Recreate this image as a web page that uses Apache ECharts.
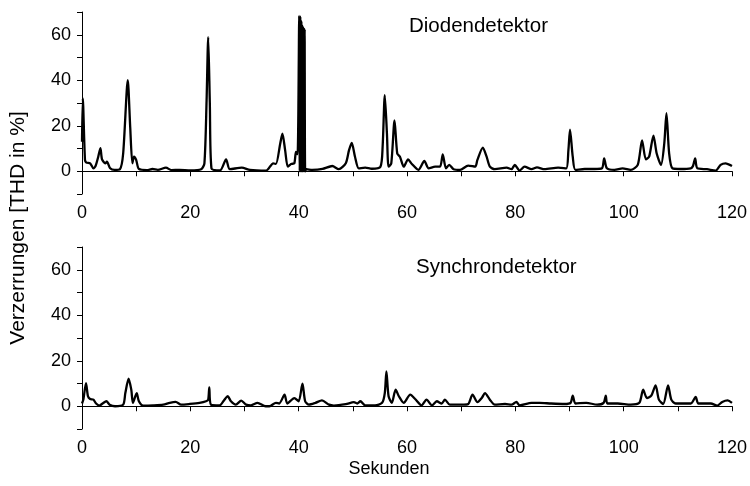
<!DOCTYPE html>
<html>
<head>
<meta charset="utf-8">
<script src="https://cdn.jsdelivr.net/npm/echarts@6/dist/echarts.min.js"></script>
<style>
  html, body { margin: 0; padding: 0; background: #fff; }
  #chart { width: 750px; height: 486px; }
</style>
</head>
<body>
<div id="chart"></div>
<script>
// Diodendetektor (Sekunden, THD %)
const diodeX = [0, 0.15, 0.55, 0.8, 1.5, 2.1, 2.5, 3, 3.4, 3.7, 4.3, 4.6, 5.2, 6, 7, 7.6, 8.45, 8.9, 9.3, 9.6,
  10, 10.5, 12, 13, 14, 15.5, 16.5, 18, 20, 22, 22.6, 23, 23.3, 23.6, 23.9, 25.5, 26.6, 27.3, 29.5, 31,
  34, 35.3, 35.8, 36.6, 37, 37.5, 38, 38.6, 39.2, 39.5, 39.8,
  40.1, 40.2, 40.3, 40.4, 40.5, 40.6, 40.7, 40.8, 40.9, 41, 41.1, 41.2,
  41.4, 42.5, 44.4,
  46.2, 47.4, 48.7, 49.3, 49.8, 50.4, 51.1, 52.3, 53.5, 55.1, 55.5, 55.9, 56.3, 56.6, 57.1, 57.7, 58.2, 58.7, 59.4, 60.2,
  60.9, 62.1, 63.2, 64, 65.2, 66.1, 66.6, 67.2, 67.8, 68.6, 69.8, 71.3, 72.6, 73, 74, 74.7, 75.3, 76.2, 78.4, 79.3,
  79.9, 80.8, 81.7, 83, 84, 85.4, 87.9, 89.4, 89.8, 90.1, 90.6, 91.1, 92.8, 94.6, 96, 96.4, 96.9, 98.3, 99.8, 101.3,
  102.6, 103.4, 104.1, 104.7, 105.5, 106.1, 106.9, 107.5, 107.9, 108.4, 109, 110.5, 112.4, 112.8, 113.2, 113.6, 115.4, 117, 117.9, 118.8, 120]
const diodeY = [13, 32, 5, 3.8, 3.5, 1.3, 2.3, 6.4, 10.2, 5.2, 3.5, 4.2, 1.3, 0.6, 0.9, 7.8, 40, 19.4, 3.5, 6.4,
  5, 1, 0.5, 1, 0.6, 1.6, 0.5, 0.6, 0.4, 0.9, 3.5, 31, 59, 30, 1.3, 0.4, 5.2, 0.9, 1.6, 0.6,
  0.3, 3.5, 3.2, 12.2, 16.5, 9.3, 2, 3.2, 3.5, 8.5, 7.5,
  68.3, 0, 68, 0, 66, 0, 64, 0, 63, 0, 62.5, 0,
  0.9, 0.6, 1,
  2.3, 0.9, 3.5, 9.3, 12.5, 6.4, 1.3, 1.6, 1.1, 2, 10.7, 33.5, 16.5, 2, 3.5, 22.3, 7.8, 6.4, 2, 5.2,
  3.2, 0.6, 4.5, 1.3, 2, 2, 7.4, 1.3, 2.8, 0.9, 0.6, 2.5, 2, 5, 10.4, 6.4, 2, 0.9, 1.6, 0.9,
  2.8, 0.3, 2, 0.9, 1.7, 0.9, 1.6, 1.3, 9.3, 18.3, 6.4, 0.6, 1, 1, 1.3, 5.7, 1.3, 0.6, 1.3, 0.6,
  2.8, 13.6, 5.2, 6.4, 15.7, 7.8, 2.8, 12.2, 25.5, 7.8, 1.3, 1, 1.3, 2.3, 5.7, 1.3, 0.9, 0.3, 2.8, 3.5, 2.3]

// Synchrondetektor
const syncX = [0, 0.25, 0.74, 1.1, 1.5, 2.1, 2.6, 3.2, 3.8, 4.5, 5.1, 6.1, 7.6, 8, 8.6, 9.1, 9.4, 10.1, 10.5, 11.3,
  13.1, 15, 16.2, 17.3, 18.3, 19.9, 21.7, 22.9, 23.3, 23.5, 23.8, 25.4, 26.3, 26.9, 27.5, 28.4, 29.4, 30.3, 31.2, 32.4,
  33.9, 34.6, 35.8, 36.4, 37.4, 37.9, 39.2, 40, 40.7, 41.2, 41.9, 43.1, 44.3, 45.6, 46.5, 48.7, 50.2, 50.8, 51.4, 52.3,
  54.1, 55.4, 55.9, 56.2, 56.6, 57.2, 57.9, 58.5, 59.4, 60.6, 61.5, 62.7, 63.6, 64.6, 65.5, 66.4, 67, 67.9, 70.1, 71.3,
  72.1, 73, 73.8, 74.4, 75.3, 76.2, 78.1, 79.3, 80.2, 80.8, 83, 84.5, 86.6, 89.1, 90.2, 90.6, 91.1, 93.1, 95.1, 96.3,
  96.7, 97, 98.9, 101.3, 102.9, 103.6, 104.3, 105.1, 105.9, 106.5, 107.3, 108.2, 108.8, 109.6, 112.4, 113.3, 113.8, 116.1, 117.3, 118.2, 119.2, 120]
const syncY = [1.2, 2.9, 10.2, 4.4, 3.2, 2.9, 1.2, 0.3, 1.2, 2.2, 0.7, 0, 0.7, 5.8, 12.1, 7.3, 1.5, 5.8, 2.2, 0.3,
  0.4, 0.7, 1.5, 1.9, 0.7, 1, 1.5, 2.2, 2.9, 8.3, 0.7, 0.4, 2.9, 4.4, 2.2, 0.7, 2.5, 0.7, 0.4, 1.5,
  0, 0, 1.5, 1.2, 5.1, 1.2, 3.6, 2.2, 9.9, 2.2, 0.7, 1.5, 2.6, 0.7, 0.3, 0.9, 1.8, 1.2, 2.2, 0.4,
  0.4, 1.5, 5.8, 15.3, 4.4, 1.5, 7.3, 4.4, 1.5, 5.1, 3.2, 0.4, 2.9, 0.4, 2.2, 1.2, 2.9, 0.7, 0.7, 1,
  5.1, 1.8, 3.6, 5.8, 2.9, 0.7, 1, 0.7, 1.9, 0.4, 1.5, 1.5, 1.2, 1, 1.5, 4.7, 1.2, 1.5, 0.7, 1.5,
  4.7, 1.2, 1.2, 0.7, 1.5, 7.3, 3.6, 4.7, 9.2, 2.9, 1, 9.2, 2.9, 1.2, 1.2, 4.1, 1.2, 1.2, 0.3, 1.9, 2.6, 1.5]

const panelTitles = ['Diodendetektor', 'Synchrondetektor']
const xTitle = 'Sekunden'
const yTitle = 'Verzerrungen [THD in %]'

const font = 'Liberation Sans, Arial, sans-serif'
const zip = (xs, ys) => xs.map((x, i) => [x, ys[i]])

function xAxisFor(idx) {
  return {
    type: 'value', gridIndex: idx, min: 0, max: 120, interval: 10,
    axisLine: { lineStyle: { color: '#000', width: 1 } },
    axisTick: { inside: false, length: 5, lineStyle: { color: '#000' } },
    splitLine: { show: false },
    axisLabel: {
      color: '#000', fontSize: 18, fontFamily: font, margin: 10,
      formatter: v => (v % 20 === 0 ? String(v) : '')
    },
    name: idx === 1 ? xTitle : '',
    nameLocation: 'middle', nameGap: 31,
    nameTextStyle: { color: '#000', fontSize: 18, fontFamily: font, padding: [0, 36, 0, 0] }
  }
}

function yAxisFor(idx) {
  return {
    type: 'value', gridIndex: idx, min: -10, max: 70, interval: 10,
    axisLine: { show: true, lineStyle: { color: '#000', width: 1 } },
    axisTick: { show: true, inside: false, length: 5, lineStyle: { color: '#000' } },
    splitLine: { show: false },
    axisLabel: {
      color: '#000', fontSize: 18, fontFamily: font, margin: 11,
      formatter: v => (v >= 0 && v % 20 === 0 ? String(v) : '')
    }
  }
}

const chart = echarts.init(document.getElementById('chart'))
chart.setOption({
  backgroundColor: '#fff',
  animation: false,
  title: [
    { text: panelTitles[0], left: 404, top: 11, textStyle: { color: '#000', fontSize: 20.5, fontWeight: 'normal', fontFamily: font } },
    { text: panelTitles[1], left: 411, top: 252, textStyle: { color: '#000', fontSize: 20.5, fontWeight: 'normal', fontFamily: font } }
  ],
  grid: [
    { left: 82, width: 653, top: 12, height: 182 },
    { left: 82, width: 653, top: 247, height: 182 }
  ],
  xAxis: [xAxisFor(0), xAxisFor(1)],
  yAxis: [yAxisFor(0), yAxisFor(1)],
  graphic: [{
    type: 'text', x: 18, y: 228, rotation: Math.PI / 2,
    style: { text: yTitle, fill: '#000', fontSize: 21, fontFamily: font, align: 'center', verticalAlign: 'middle' }
  }],
  series: [
    {
      type: 'line', xAxisIndex: 0, yAxisIndex: 0, data: zip(diodeX, diodeY),
      showSymbol: false, smooth: 0.25, lineStyle: { color: '#000', width: 2.3 }
    },
    {
      type: 'line', xAxisIndex: 1, yAxisIndex: 1, data: zip(syncX, syncY),
      showSymbol: false, smooth: 0.25, lineStyle: { color: '#000', width: 2.3 }
    }
  ]
})
</script>
</body>
</html>
